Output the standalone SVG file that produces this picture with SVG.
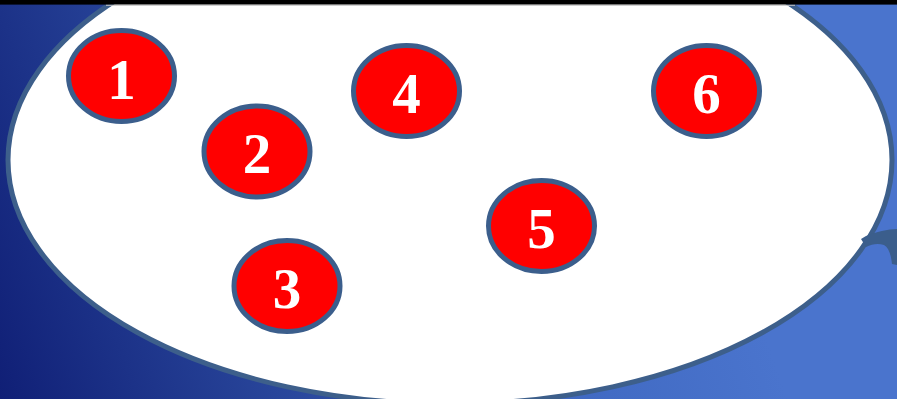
<svg xmlns="http://www.w3.org/2000/svg" width="897" height="399" viewBox="0 0 897 399">
  <defs>
    <linearGradient id="bg" gradientUnits="userSpaceOnUse" x1="0" y1="399" x2="700" y2="150">
      <stop offset="0" stop-color="#101f76"/>
      <stop offset="0.35" stop-color="#28459a"/>
      <stop offset="0.72" stop-color="#4069c2"/>
      <stop offset="1" stop-color="#4a74cd"/>
    </linearGradient>
  </defs>
  <style>
    .node ellipse { fill: #ff0000; stroke: #3b5e8c; stroke-width: 5; }
    .node text { font-family: "Liberation Serif", "Times New Roman", serif; font-weight: bold; font-size: 57px; fill: #ffffff; text-anchor: middle; }
  </style>
  <rect x="0" y="0" width="897" height="399" fill="url(#bg)"/>
  <g id="field">
    <ellipse cx="450" cy="160" rx="442" ry="244" fill="#ffffff" stroke="#3d5f8b" stroke-width="5"/>
  </g>
  <g id="connectors">
    <path d="M 861 239 L 866 236 C 876 232 888 229 897 229 L 897 265 L 892 264 C 891 255 889 248 884 245 C 878 243 872 244 866 247 Z" fill="#3b5e8c"/>
  </g>
  <rect x="0" y="0" width="897" height="4.6" fill="#000000"/>
  <line x1="106" y1="5.3" x2="795" y2="5.3" stroke="#c4c4c4" stroke-width="1"/>
  <g id="node1" class="node">
    <ellipse cx="121.5" cy="76" rx="53" ry="45.5"/>
    <text x="121.5" y="99">1</text>
  </g>
  <g id="node2" class="node">
    <ellipse cx="257" cy="151.5" rx="53" ry="45.5"/>
    <text x="257" y="173">2</text>
  </g>
  <g id="node3" class="node">
    <ellipse cx="287" cy="286" rx="53" ry="45.5"/>
    <text x="287" y="308">3</text>
  </g>
  <g id="node4" class="node">
    <ellipse cx="406.5" cy="91" rx="53" ry="45.5"/>
    <text x="406.5" y="113">4</text>
  </g>
  <g id="node5" class="node">
    <ellipse cx="541.5" cy="226" rx="53" ry="45.5"/>
    <text x="541.5" y="248">5</text>
  </g>
  <g id="node6" class="node">
    <ellipse cx="706.5" cy="91" rx="53" ry="45.5"/>
    <text x="706.5" y="113">6</text>
  </g>
</svg>
